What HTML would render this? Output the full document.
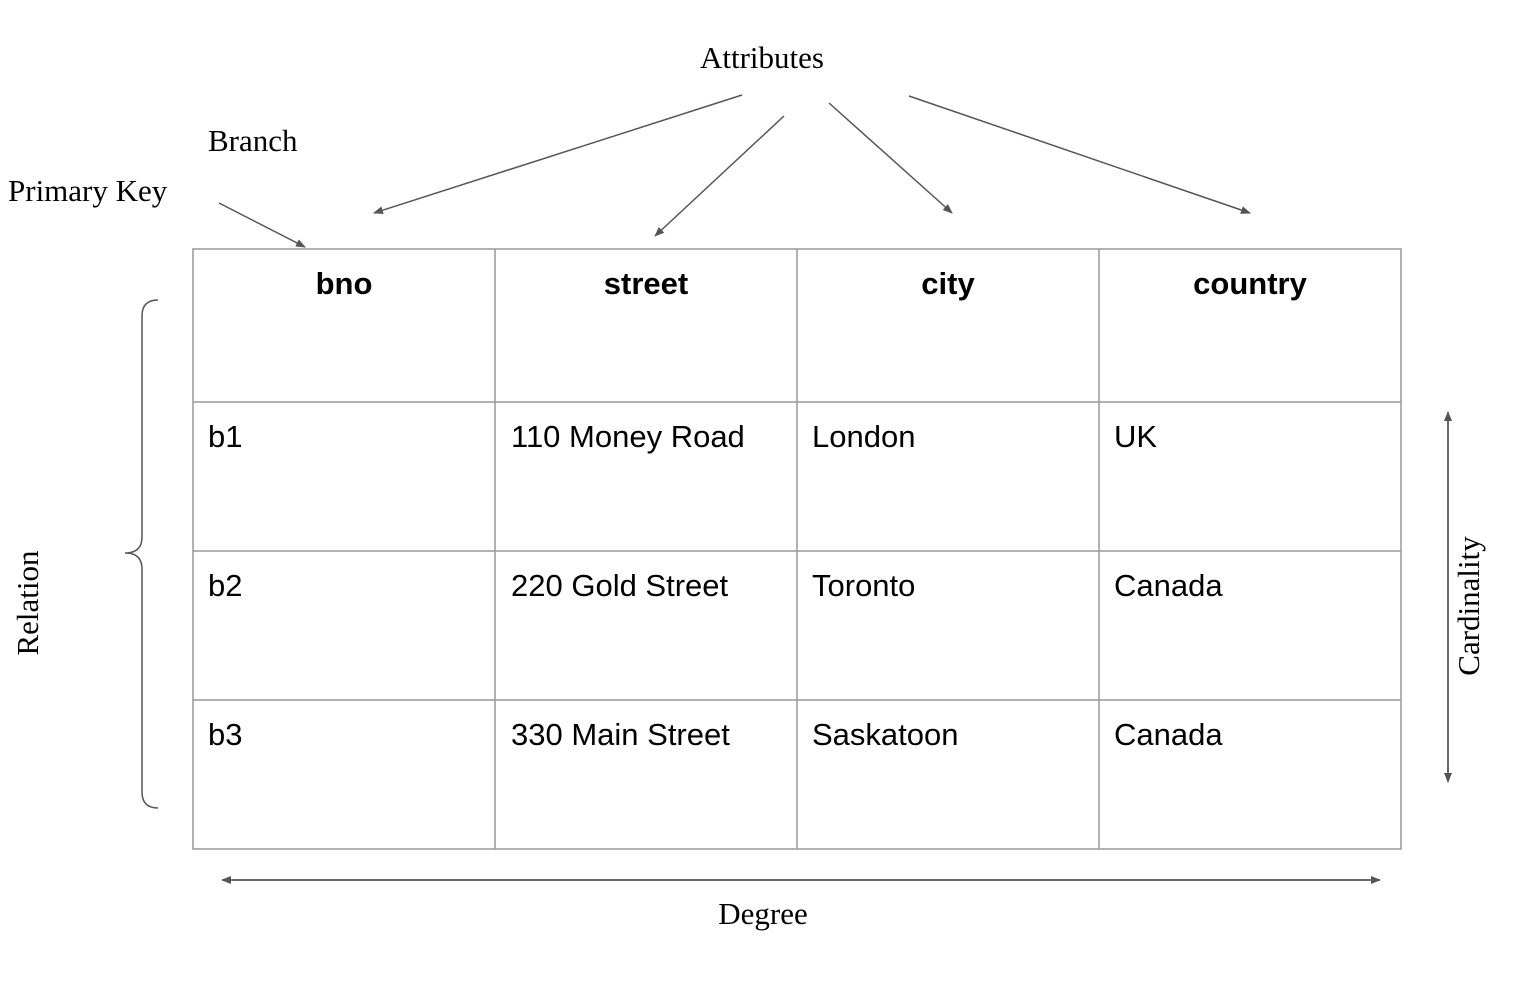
<!DOCTYPE html>
<html><head><meta charset="utf-8"><style>
html,body{margin:0;padding:0;background:#fff;}
svg{display:block;}
.serif{font-family:"Liberation Serif",serif;font-size:31px;fill:#000;}
.sans{font-family:"Liberation Sans",sans-serif;font-size:31px;fill:#000;}
.b{font-weight:bold;}
</style></head><body>
<svg width="1528" height="1000" viewBox="0 0 1528 1000">
<defs><marker id="ah" markerWidth="10" markerHeight="8" refX="9" refY="4" orient="auto" markerUnits="userSpaceOnUse"><path d="M0,0 L10,4 L0,8 z" fill="#555"/></marker></defs>
<text class="serif" x="762" y="68" text-anchor="middle">Attributes</text>
<text class="serif" x="208" y="151">Branch</text>
<text class="serif" x="8" y="201">Primary Key</text>
<g stroke="#555" stroke-width="1.5" fill="none">
<line x1="742" y1="95" x2="374" y2="213" marker-end="url(#ah)"/>
<line x1="784" y1="116" x2="655" y2="236" marker-end="url(#ah)"/>
<line x1="829" y1="103" x2="952" y2="213" marker-end="url(#ah)"/>
<line x1="909" y1="96" x2="1250" y2="213" marker-end="url(#ah)"/>
<line x1="219" y1="203" x2="305" y2="247" marker-end="url(#ah)"/>
<line x1="232" y1="880" x2="1380" y2="880" marker-end="url(#ah)"/>
<line x1="1370" y1="880" x2="222" y2="880" marker-end="url(#ah)"/>
<line x1="1448" y1="420" x2="1448" y2="782" marker-end="url(#ah)"/>
<line x1="1448" y1="775" x2="1448" y2="412" marker-end="url(#ah)"/>
</g>
<g stroke="#999" stroke-width="1.5" fill="none">
<rect x="193" y="249" width="1208" height="600"/>
<line x1="495" y1="249" x2="495" y2="849"/><line x1="797" y1="249" x2="797" y2="849"/><line x1="1099" y1="249" x2="1099" y2="849"/>
<line x1="193" y1="402" x2="1401" y2="402"/><line x1="193" y1="551" x2="1401" y2="551"/><line x1="193" y1="700" x2="1401" y2="700"/>
</g>
<g text-anchor="middle">
<text class="sans b" x="344" y="294">bno</text><text class="sans b" x="646" y="294">street</text><text class="sans b" x="948" y="294">city</text><text class="sans b" x="1250" y="294">country</text>
</g>
<g>
<text class="sans" x="208" y="447">b1</text><text class="sans" x="511" y="447">110 Money Road</text><text class="sans" x="812" y="447">London</text><text class="sans" x="1114" y="447">UK</text>
<text class="sans" x="208" y="596">b2</text><text class="sans" x="511" y="596">220 Gold Street</text><text class="sans" x="812" y="596">Toronto</text><text class="sans" x="1114" y="596">Canada</text>
<text class="sans" x="208" y="745">b3</text><text class="sans" x="511" y="745">330 Main Street</text><text class="sans" x="812" y="745">Saskatoon</text><text class="sans" x="1114" y="745">Canada</text>
</g>
<path d="M158,300 Q142,300 142,316 L142,537 Q142,553 125,553 Q142,553 142,569 L142,792 Q142,808 158,808" stroke="#555" stroke-width="1.5" fill="none"/>
<text class="serif" x="0" y="0" text-anchor="middle" transform="translate(38,603) rotate(-90)">Relation</text>
<text class="serif" x="0" y="0" text-anchor="middle" transform="translate(1479,606) rotate(-90)">Cardinality</text>
<text class="serif" x="763" y="924" text-anchor="middle">Degree</text>
</svg>
</body></html>
